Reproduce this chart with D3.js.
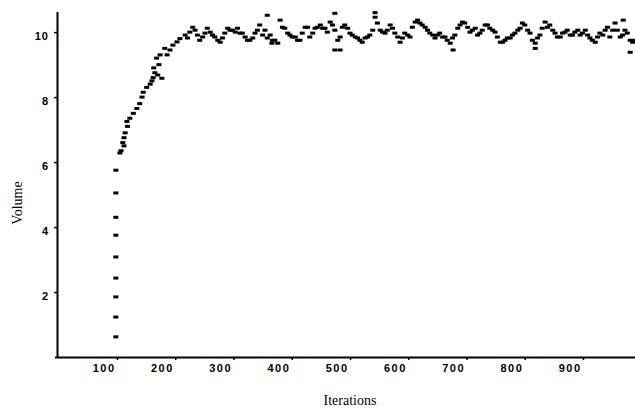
<!DOCTYPE html>
<html>
<head>
<meta charset="utf-8">
<script src="https://cdn.jsdelivr.net/npm/d3@7"></script>
<style>
  body { margin: 0; background: #fff; }
  .tick text { font-family: "Liberation Sans", Arial, sans-serif; font-weight: bold; font-size: 11px; fill: #000; }
  .axis-text { font-family: "Liberation Serif", "Times New Roman", serif; font-size: 14px; fill: #000; }
</style>
</head>
<body>
<div class="chart"></div>
<script>
// Data
//= ================================
var startIterations = [98, 98, 98, 98, 98, 98, 98, 98, 98];
var startVolumes = [0.62, 1.23, 1.85, 2.43, 3.08, 3.75, 4.3, 5.05, 5.75];

var riseIterations = [105, 107, 110, 112, 114, 117, 122, 128, 134, 139, 143, 145, 151, 157, 162, 165, 168, 170, 174, 177, 182, 191, 196, 203, 208];
var riseVolumes = [6.28, 6.35, 6.6, 6.75, 6.9, 7.25, 7.35, 7.5, 7.65, 7.8, 8.0, 8.15, 8.3, 8.4, 8.6, 8.75, 9.2, 8.68, 9.3, 8.58, 9.5, 9.45, 9.6, 9.7, 9.8];

var plateauIterations = [
  217, 221, 225, 230, 234, 238, 242, 247, 251, 255, 260, 264, 268, 273, 277, 281, 285, 290, 294, 298,
  303, 307, 311, 315, 320, 324, 328, 333, 337, 341, 345, 350, 354, 358, 363, 367, 371, 376, 380, 384,
  388, 393, 397, 401, 406, 410, 414, 418, 423, 427, 431, 436, 440, 444, 449, 453, 457, 461, 466, 470,
  474, 479, 483, 487, 491, 496, 500, 504, 509, 513, 517, 521, 526, 530, 534, 539, 543, 547, 552, 556,
  560, 564, 569, 573, 577, 582, 586, 590, 594, 599, 603, 607, 612, 616, 620, 624, 629, 633, 637, 642,
  646, 650, 654, 659, 663, 667, 672, 676, 680, 685, 689, 693, 697, 702, 706, 710, 715, 719, 723, 727,
  732, 736, 740, 745, 749, 753, 758, 762, 766, 770, 775, 779, 783, 788, 792, 796, 800, 805, 809, 813,
  818, 822, 826, 830, 835, 839, 843, 848, 852, 856, 861, 865, 869, 873, 878, 882, 886, 891, 895, 899,
  904, 908, 912, 916, 921, 925, 929, 934, 938, 942, 946, 951, 955, 959, 964, 968, 972, 976, 981, 985, 989
];
var plateauVolumes = [
  9.91, 9.82, 10.0, 10.15, 10.06, 9.91, 9.75, 9.85, 9.97, 10.12, 10.0, 9.91, 9.85, 9.75, 9.69, 9.82, 9.97, 10.12, 10.06, 10.06,
  10.0, 10.12, 9.97, 9.97, 9.85, 9.75, 9.75, 9.82, 9.97, 10.06, 10.22, 9.91, 10.06, 9.82, 9.91, 9.75, 9.75, 9.66, 10.37, 10.15,
  10.12, 9.97, 9.91, 9.85, 9.85, 9.75, 9.75, 9.97, 10.15, 10.15, 9.85, 9.97, 10.12, 10.15, 10.22, 10.12, 10.12, 10.0, 10.31, 10.22,
  10.06, 9.75, 9.85, 10.15, 10.22, 10.12, 9.97, 9.91, 9.85, 9.82, 9.75, 9.69, 9.82, 9.85, 9.91, 10.06, 10.46, 10.28, 10.06, 10.0,
  9.97, 10.06, 10.22, 10.12, 9.97, 9.85, 9.69, 9.82, 9.97, 9.91, 9.85, 10.15, 10.31, 10.37, 10.28, 10.22, 10.15, 10.06, 9.97, 9.91,
  9.82, 9.91, 9.97, 9.85, 9.85, 9.75, 9.66, 9.82, 9.91, 10.12, 10.22, 10.31, 10.28, 10.15, 10.0, 10.06, 10.12, 9.91, 9.97, 10.06,
  10.22, 10.22, 10.12, 10.06, 10.0, 9.85, 9.69, 9.69, 9.75, 9.82, 9.82, 9.91, 9.97, 10.06, 10.12, 10.28, 10.22, 10.06, 9.97, 9.75,
  9.66, 9.82, 9.91, 10.12, 10.31, 10.15, 10.22, 10.06, 9.97, 9.85, 9.85, 9.97, 10.0, 10.06, 9.91, 9.91, 10.0, 10.06, 9.91, 9.97,
  10.06, 9.91, 9.82, 9.75, 9.69, 9.85, 9.97, 9.91, 10.06, 10.15, 9.85, 10.06, 10.28, 10.06, 9.85, 9.91, 10.06, 9.97, 9.75, 9.69, 9.75
];

// loose dashes above and below the main band
var strayIterations = [112, 118, 160, 163, 172, 186, 358, 366, 474, 474, 483, 543, 677, 818, 969, 981];
var strayVolumes = [6.5, 7.1, 8.5, 8.9, 9.0, 9.3, 10.52, 9.66, 10.58, 9.45, 9.45, 10.6, 9.45, 9.5, 10.37, 9.38];

var xTickValues = [100, 200, 300, 400, 500, 600, 700, 800, 900];
var yTickValues = [2, 4, 6, 8, 10];

// Step 0: Set up our chart
//= ================================
var svgWidth = 635;
var svgHeight = 411;

var svg = d3
  .select(".chart")
  .append("svg")
  .attr("width", svgWidth)
  .attr("height", svgHeight);

var chart = svg.append("g");

// Scales
var xLinearScale = d3.scaleLinear().domain([0, 1000]).range([58.75, 641.25]);
var yLinearScale = d3.scaleLinear().domain([0, 10.62]).range([357, 12]);

// Combine all the dashes
var points = [];
function addSeries(iters, vols) {
  iters.forEach(function(it, i) {
    points.push({ iteration: it, volume: vols[i] });
  });
}
addSeries(startIterations, startVolumes);
addSeries(riseIterations, riseVolumes);
addSeries(plateauIterations, plateauVolumes);
addSeries(strayIterations, strayVolumes);

chart
  .selectAll("rect.dash")
  .data(points)
  .enter()
  .append("rect")
  .attr("class", "dash")
  .attr("x", function(d) { return xLinearScale(d.iteration) - 2.5; })
  .attr("y", function(d) { return yLinearScale(d.volume) - 1.5; })
  .attr("width", 5)
  .attr("height", 3)
  .attr("fill", "#000");

// x-axis
var bottomAxis = d3.axisBottom(xLinearScale)
  .tickValues(xTickValues)
  .tickSize(3)
  .tickSizeOuter(0);

var xAxisG = chart
  .append("g")
  .attr("transform", "translate(0,357)")
  .call(bottomAxis);
xAxisG.select(".domain").attr("stroke", "#000").attr("stroke-width", 2)
  .attr("d", "M55,0.5H641");
xAxisG.selectAll(".tick line").attr("stroke", "#000").attr("stroke-width", 1.5);
xAxisG.selectAll(".tick text")
  .attr("text-anchor", "end")
  .attr("x", -2)
  .attr("y", 7)
  .attr("dy", "0.71em")
  .style("letter-spacing", "1.5px");

// y-axis
var leftAxis = d3.axisLeft(yLinearScale)
  .tickValues(yTickValues)
  .tickSize(3)
  .tickSizeOuter(0)
  .tickFormat(d3.format("d"));

var yAxisG = chart
  .append("g")
  .attr("transform", "translate(57,0)")
  .call(leftAxis);
yAxisG.select(".domain").attr("stroke", "#000").attr("stroke-width", 2)
  .attr("d", "M0.5,12V358");
yAxisG.selectAll(".tick line").attr("stroke", "#000").attr("stroke-width", 1.5);
yAxisG.selectAll(".tick text")
  .attr("x", -8)
  .attr("dy", "0.7em")
  .style("letter-spacing", "1px");

// y-axis label
chart
  .append("text")
  .attr("transform", "rotate(-90)")
  .attr("y", 22)
  .attr("x", -203)
  .attr("text-anchor", "middle")
  .attr("class", "axis-text")
  .text("Volume");

// x-axis label
chart
  .append("text")
  .attr("transform", "translate(350,405)")
  .attr("text-anchor", "middle")
  .attr("class", "axis-text")
  .text("Iterations");
</script>
</body>
</html>
